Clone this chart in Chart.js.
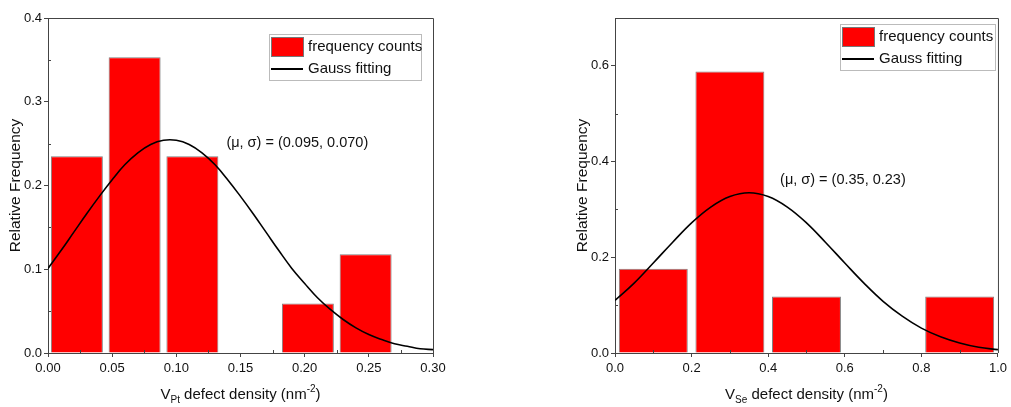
<!DOCTYPE html>
<html>
<head>
<meta charset="utf-8">
<script src="https://cdn.jsdelivr.net/npm/chart.js@4/dist/chart.umd.min.js"></script>
<style>
  html, body { margin: 0; padding: 0; background: #fff; }
  body { width: 1011px; height: 407px; position: relative; overflow: hidden; }
  .panel { position: absolute; top: 0; height: 407px; }
  #pt-panel { left: 0; width: 460px; }
  #se-panel { left: 567px; width: 444px; }
</style>
</head>
<body>
<div class="panel" id="pt-panel"><canvas id="pt-chart"></canvas></div>
<div class="panel" id="se-panel"><canvas id="se-chart"></canvas></div>
<script>
(function() {
    'use strict';

    // V_Pt histogram (bin centres, relative frequency)
    const PT_BINS = [0.0225, 0.0675, 0.1125, 0.2025, 0.2475];
    const PT_FREQ = [0.235, 0.353, 0.235, 0.059, 0.118];
    // Gauss fitting curve
    const PT_FIT_X = [0.00, 0.01, 0.02, 0.03, 0.04, 0.05, 0.06, 0.07, 0.08, 0.09, 0.10,
                      0.11, 0.12, 0.13, 0.14, 0.15, 0.16, 0.17, 0.18, 0.19, 0.20,
                      0.21, 0.22, 0.23, 0.24, 0.25, 0.26, 0.27, 0.28, 0.29, 0.30];
    const PT_FIT_Y = [0.101, 0.122, 0.144, 0.166, 0.187, 0.207, 0.225, 0.239, 0.249, 0.254, 0.254,
                      0.249, 0.239, 0.225, 0.207, 0.187, 0.166, 0.144, 0.122, 0.101, 0.083,
                      0.066, 0.052, 0.040, 0.030, 0.022, 0.016, 0.011, 0.008, 0.005, 0.004];

    // V_Se histogram
    const SE_BINS = [0.1, 0.3, 0.5, 0.9];
    const SE_FREQ = [0.176, 0.588, 0.118, 0.118];
    const SE_FIT_X = [0.00, 0.05, 0.10, 0.15, 0.20, 0.25, 0.30, 0.35, 0.40, 0.45, 0.50,
                      0.55, 0.60, 0.65, 0.70, 0.75, 0.80, 0.85, 0.90, 0.95, 1.00];
    const SE_FIT_Y = [0.110, 0.146, 0.188, 0.231, 0.272, 0.305, 0.327, 0.335, 0.327, 0.305, 0.272,
                      0.231, 0.188, 0.146, 0.108, 0.077, 0.052, 0.034, 0.021, 0.012, 0.007];

    const LEGEND_LABELS = ['frequency counts', 'Gauss fitting'];
    const Y_TITLE = 'Relative Frequency';

    const FONT = '"Liberation Sans", Arial, sans-serif';
    const AXIS_COLOR = '#444';

    // Frame, minor ticks, legend box, annotation and sub/superscript axis title
    const decorPlugin = {
        id: 'decor',
        afterDraw(chart, args, opts) {
            const ctx = chart.ctx;
            const a = chart.chartArea;
            const xs = chart.scales.x;
            const ys = chart.scales.y;
            ctx.save();

            // top and right border
            ctx.strokeStyle = AXIS_COLOR;
            ctx.lineWidth = 1;
            ctx.beginPath();
            ctx.moveTo(a.left, a.top + 0.5);
            ctx.lineTo(a.right + 0.5, a.top + 0.5);
            ctx.lineTo(a.right + 0.5, a.bottom);
            ctx.stroke();

            // inward minor ticks
            ctx.beginPath();
            for (let v = opts.xMinor; v < xs.max; v += opts.xMinor * 2) {
                const px = Math.round(xs.getPixelForValue(v)) + 0.5;
                ctx.moveTo(px, a.bottom);
                ctx.lineTo(px, a.bottom - 3);
            }
            for (let v = opts.yMinor; v < ys.max; v += opts.yMinor * 2) {
                const py = Math.round(ys.getPixelForValue(v)) + 0.5;
                ctx.moveTo(a.left, py);
                ctx.lineTo(a.left + 3, py);
            }
            ctx.stroke();

            // legend
            const lg = opts.legend;
            ctx.fillStyle = '#fff';
            ctx.fillRect(lg.x, lg.y, lg.w, lg.h);
            ctx.strokeStyle = '#bbb';
            ctx.strokeRect(lg.x + 0.5, lg.y + 0.5, lg.w, lg.h);
            ctx.fillStyle = '#ff0000';
            ctx.fillRect(lg.x + 2, lg.y + 3, 32, 19);
            ctx.strokeStyle = '#777';
            ctx.strokeRect(lg.x + 2.5, lg.y + 3.5, 32, 19);
            ctx.strokeStyle = '#000';
            ctx.lineWidth = 2;
            ctx.beginPath();
            ctx.moveTo(lg.x + 2, lg.y + 35);
            ctx.lineTo(lg.x + 34, lg.y + 35);
            ctx.stroke();
            ctx.fillStyle = '#111';
            ctx.font = '15px ' + FONT;
            ctx.textBaseline = 'middle';
            ctx.textAlign = 'left';
            ctx.fillText(LEGEND_LABELS[0], lg.x + 39, lg.y + 13);
            ctx.fillText(LEGEND_LABELS[1], lg.x + 39, lg.y + 35);

            // fit annotation
            ctx.font = '14.5px ' + FONT;
            ctx.fillText(opts.note.text, xs.getPixelForValue(opts.note.x), ys.getPixelForValue(opts.note.y));

            // x axis title with subscript and superscript
            const t = opts.xTitle;
            const parts = [
                { s: 'V', size: 15, dy: 0 },
                { s: t.sub, size: 10, dy: 5 },
                { s: ' defect density (nm', size: 15, dy: 0 },
                { s: '-2', size: 10, dy: -6 },
                { s: ')', size: 15, dy: 0 },
            ];
            let total = 0;
            parts.forEach(p => {
                ctx.font = p.size + 'px ' + FONT;
                p.w = ctx.measureText(p.s).width;
                total += p.w;
            });
            let cx = (a.left + a.right) / 2 - total / 2;
            const cy = 395;
            parts.forEach(p => {
                ctx.font = p.size + 'px ' + FONT;
                ctx.fillText(p.s, cx, cy + p.dy);
                cx += p.w;
            });

            ctx.restore();
        },
    };

    function buildChart(id, cfg) {
        const canvas = document.getElementById(id);
        const barData = cfg.bins.map((x, i) => ({ x, y: cfg.freq[i] }));
        const fitData = cfg.fitX.map((x, i) => ({ x, y: cfg.fitY[i] }));

        return new Chart(canvas, {
            type: 'bar',
            data: {
                datasets: [
                    {
                        type: 'line',
                        label: LEGEND_LABELS[1],
                        data: fitData,
                        borderColor: '#000',
                        borderWidth: 1.6,
                        pointRadius: 0,
                        tension: 0.4,
                        fill: false,
                        order: 0,
                    },
                    {
                        label: LEGEND_LABELS[0],
                        data: barData,
                        backgroundColor: '#ff0000',
                        borderColor: '#808080',
                        borderWidth: 1,
                        barPercentage: 0.9,
                        categoryPercentage: 1,
                        order: 1,
                    },
                ],
            },
            options: {
                responsive: true,
                maintainAspectRatio: false,
                animation: false,
                layout: { padding: { top: 18, right: cfg.padRight, left: 0, bottom: 0 } },
                plugins: {
                    legend: { display: false },
                    tooltip: { enabled: false },
                    decor: cfg.decor,
                },
                scales: {
                    x: {
                        type: 'linear',
                        min: 0,
                        max: cfg.xMax,
                        offset: false,
                        grid: { display: true, drawOnChartArea: false, offset: false, tickLength: 4, color: AXIS_COLOR },
                        border: { color: AXIS_COLOR, width: 1 },
                        ticks: {
                            stepSize: cfg.xStep,
                            includeBounds: false,
                            maxRotation: 0,
                            autoSkip: false,
                            color: '#111',
                            font: { family: FONT, size: 13 },
                            padding: 4,
                            callback: v => v.toFixed(cfg.xDigits),
                        },
                        afterFit: s => { s.height = 54; },
                    },
                    y: {
                        min: 0,
                        max: cfg.yMax,
                        grid: { display: true, drawOnChartArea: false, tickLength: 4, color: AXIS_COLOR },
                        border: { color: AXIS_COLOR, width: 1 },
                        ticks: {
                            stepSize: cfg.yStep,
                            includeBounds: false,
                            color: '#111',
                            font: { family: FONT, size: 13 },
                            padding: 2,
                            callback: v => v.toFixed(1),
                        },
                        title: {
                            display: true,
                            text: Y_TITLE,
                            color: '#111',
                            font: { family: FONT, size: 15.5 },
                            padding: { top: 6, bottom: 0 },
                        },
                        afterFit: s => { s.width = 48; },
                    },
                },
            },
            plugins: [decorPlugin],
        });
    }

    function init() {
        buildChart('pt-chart', {
            bins: PT_BINS, freq: PT_FREQ, fitX: PT_FIT_X, fitY: PT_FIT_Y,
            xMax: 0.30, xStep: 0.05, xDigits: 2, yMax: 0.4, yStep: 0.1, padRight: 27,
            decor: {
                xMinor: 0.025, yMinor: 0.05,
                legend: { x: 269, y: 34, w: 152, h: 46 },
                note: { text: '(\u03bc, \u03c3) = (0.095, 0.070)', x: 0.139, y: 0.251 },
                xTitle: { sub: 'Pt' },
            },
        });
        buildChart('se-chart', {
            bins: SE_BINS, freq: SE_FREQ, fitX: SE_FIT_X, fitY: SE_FIT_Y,
            xMax: 1.0, xStep: 0.2, xDigits: 1, yMax: 0.7, yStep: 0.2, padRight: 11,
            decor: {
                xMinor: 0.1, yMinor: 0.1,
                legend: { x: 273, y: 24, w: 155, h: 46 },
                note: { text: '(\u03bc, \u03c3) = (0.35, 0.23)', x: 0.431, y: 0.361 },
                xTitle: { sub: 'Se' },
            },
        });
    }

    if (document.readyState === 'loading') {
        document.addEventListener('DOMContentLoaded', init);
    } else {
        init();
    }
})();
</script>
</body>
</html>
